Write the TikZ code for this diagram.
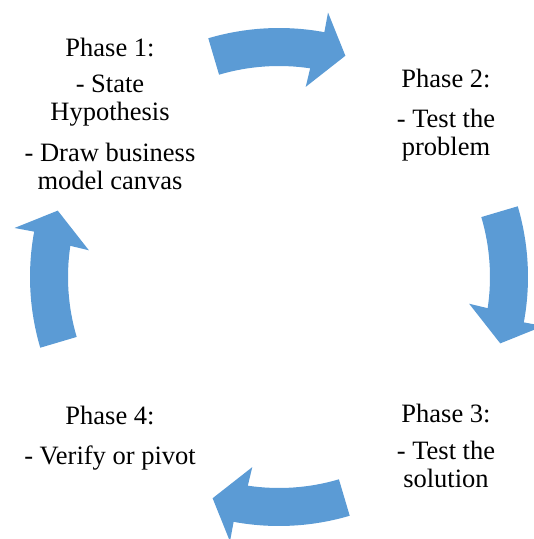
\documentclass[tikz,border=0pt]{standalone}
\usepackage{fontspec}
\setmainfont{Liberation Serif}
\definecolor{cycleblue}{RGB}{91,155,213}
\begin{document}
\begin{tikzpicture}[x=1pt,y=1pt,
  phase/.style={align=center,anchor=north,inner sep=0pt,
    font=\fontsize{26.5}{28}\selectfont},
  cyclearrow/.style={fill=cycleblue,draw=none}]
\useasboundingbox (-279,-262) rectangle (255,277);
% curved block arrows around a common centre; #1 = tail angle
\newcommand{\cyclearrow}[2]{%
  \fill[cyclearrow] (#1:249) coordinate (#2)
    arc[start angle=#1, end angle=#1-27, radius=249]
    -- (#1-27:269) -- (#1-33.2:231) -- (#1-24.5:192) -- (#1-25:211)
    arc[start angle=#1-25, end angle=#1, radius=211] -- cycle;}
\cyclearrow{106.5}{a12}
\cyclearrow{16.5}{a23}
\cyclearrow{-73.5}{a34}
\cyclearrow{-163.5}{a41}
% phase labels
\node[phase] (p1) at (-169,239) {Phase 1:\\[8pt]- State\\Hypothesis\\[13pt]- Draw business\\model canvas};
\node[phase] (p2) at (167,208) {Phase 2:\\[12pt]- Test the\\problem};
\node[phase] (p3) at (167,-127) {Phase 3:\\[9pt]- Test the\\solution};
\node[phase] (p4) at (-169,-129) {Phase 4:\\[12pt]- Verify or pivot};
\end{tikzpicture}
\end{document}
